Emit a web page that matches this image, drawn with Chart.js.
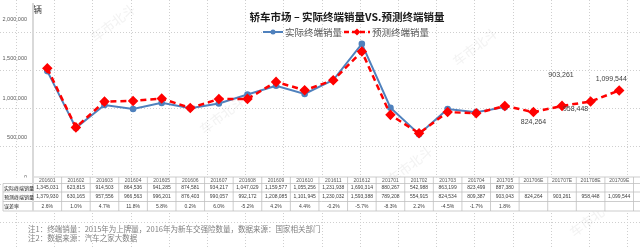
<!DOCTYPE html>
<html>
<head>
<meta charset="utf-8">
<script src="https://cdn.jsdelivr.net/npm/chart.js@4.4.1/dist/chart.umd.min.js"></script>
<style>
  html, body { margin: 0; padding: 0; background: #fff; }
  #contenedor { width: 640px; height: 247px; position: relative; }
</style>
</head>
<body>
<div id="contenedor"><canvas id="grafico"></canvas></div>
<script>
// Datos
const meses = ['201601','201602','201603','201604','201605','201606','201607','201608','201609','201610','201611','201612',
               '201701','201702','201703','201704','201705','201706E','201707E','201708E','201709E'];
const ventasReales = [1345031, 623815, 914503, 864536, 941285, 874581, 934217, 1047029, 1159577, 1055256, 1231938, 1690314,
                      880267, 542988, 863199, 823499, 887380];
const ventasPronostico = [1379930, 630165, 957556, 966563, 996201, 876403, 990057, 992172, 1208085, 1101945, 1230032, 1593388,
                          789208, 554915, 824534, 809387, 903043, 824264, 903261, 958448, 1099544];
const tasaError = ['2.6%','1.0%','4.7%','11.8%','5.8%','0.2%','6.0%','-5.2%','4.2%','4.4%','-0.2%','-5.7%',
                   '-8.3%','2.2%','-4.5%','-1.7%','1.8%'];
const ticksY = [0, 500000, 1000000, 1500000, 2000000];
const nombresSeries = ['实际终端销量', '预测终端销量'];
const titulo = '轿车市场 – 实际终端销量VS.预测终端销量';
const notas = ['注1：终端销量：2015年为上牌量，2016年为新车交强险数量，数据来源：国家相关部门', '注2：数据来源：汽车之家大数据'];

const AZUL = '#4f81bd';
const ROJO = '#ff0000';
const FUENTE = '"Liberation Sans", Arial, sans-serif';
const FUENTE_CJK = '"Noto Sans CJK SC", "Noto Sans", sans-serif';
const fmt = v => v.toLocaleString('en-US');

// fondo tipo hoja de cálculo + marcas de agua
const pluginFondo = {
    id: 'fondo',
    beforeDraw(chart) {
        const ctx = chart.ctx;
        ctx.save();
        ctx.fillStyle = '#fff';
        ctx.fillRect(0, 0, chart.width, chart.height);
        ctx.strokeStyle = '#cfcfcf';
        ctx.lineWidth = 1;
        ctx.setLineDash([1, 2]);
        for (let x = 16; x < chart.width; x += 38.2) {
            ctx.beginPath(); ctx.moveTo(Math.round(x) + 0.5, 0); ctx.lineTo(Math.round(x) + 0.5, chart.height); ctx.stroke();
        }
        for (let y = 32; y < chart.height; y += 38) {
            ctx.beginPath(); ctx.moveTo(0, y + 0.5); ctx.lineTo(chart.width, y + 0.5); ctx.stroke();
        }
        ctx.setLineDash([]);
        // marcas de agua
        ctx.fillStyle = 'rgba(205,205,205,0.25)';
        ctx.font = '13px ' + FUENTE_CJK;
        ctx.textAlign = 'center';
        ctx.textBaseline = 'middle';
        [[113, 23], [475, 47], [222, 115], [410, 165], [592, 218]].forEach(([x, y]) => {
            ctx.save(); ctx.translate(x, y); ctx.rotate(-0.65); ctx.fillText('车市北斗', 0, 0); ctx.restore();
        });
        ctx.restore();
    }
};

// título, leyenda, tabla, etiquetas y notas
const pluginExtras = {
    id: 'extras',
    afterDraw(chart) {
        const ctx = chart.ctx;
        const ex = chart.scales.x;
        const banda = ex.getPixelForValue(1) - ex.getPixelForValue(0);
        const izq = chart.chartArea.left;
        const der = chart.width;
        ctx.save();

        // título
        ctx.fillStyle = '#1a1a1a';
        ctx.font = 'bold 10.5px ' + FUENTE_CJK;
        ctx.textAlign = 'center';
        ctx.textBaseline = 'middle';
        ctx.fillText(titulo, 347, 17);

        // unidad
        ctx.font = '9px ' + FUENTE_CJK;
        ctx.textAlign = 'left';
        ctx.fillStyle = '#404040';
        ctx.fillText('辆', 33, 10);

        // leyenda
        ctx.font = '9.5px ' + FUENTE_CJK;
        ctx.strokeStyle = AZUL; ctx.lineWidth = 2;
        ctx.beginPath(); ctx.moveTo(263, 32); ctx.lineTo(283, 32); ctx.stroke();
        ctx.fillStyle = AZUL;
        ctx.beginPath(); ctx.arc(273, 32, 2.5, 0, Math.PI * 2); ctx.fill();
        ctx.fillStyle = '#595959';
        ctx.fillText(nombresSeries[0], 285, 32.5);
        ctx.strokeStyle = ROJO; ctx.lineWidth = 2.5;
        ctx.setLineDash([5, 3]);
        ctx.beginPath(); ctx.moveTo(344, 32); ctx.lineTo(370, 32); ctx.stroke();
        ctx.setLineDash([]);
        ctx.fillStyle = ROJO;
        ctx.beginPath(); ctx.moveTo(357, 28.5); ctx.lineTo(360.5, 32); ctx.lineTo(357, 35.5); ctx.lineTo(353.5, 32); ctx.closePath(); ctx.fill();
        ctx.fillStyle = '#595959';
        ctx.fillText(nombresSeries[1], 372, 32.5);

        // etiquetas de los meses estimados
        const desplaz = { 17: [0, 10], 18: [-1, -31], 19: [-15, 8], 20: [-8, -11] };
        const meta = chart.getDatasetMeta(1);
        ctx.font = '7px ' + FUENTE;
        ctx.fillStyle = '#404040';
        ctx.textAlign = 'center';
        Object.keys(desplaz).forEach(k => {
            const p = meta.data[k];
            const [dx, dy] = desplaz[k];
            ctx.fillText(fmt(ventasPronostico[k]), p.x + dx, p.y + dy);
        });

        // tabla de datos
        const filas = [177, 183.5, 192, 201.5, 211];
        ctx.fillStyle = '#fff';
        ctx.fillRect(3, filas[0] + 0.5, der - 3, filas[4] - filas[0]);
        ctx.strokeStyle = '#c0c0c0';
        ctx.lineWidth = 0.8;
        ctx.beginPath();
        ctx.moveTo(izq, filas[0]); ctx.lineTo(der, filas[0]);
        for (let r = 1; r < filas.length; r++) { ctx.moveTo(3, filas[r]); ctx.lineTo(der, filas[r]); }
        ctx.moveTo(3, filas[1]); ctx.lineTo(3, filas[4]);
        for (let i = 0; i <= meses.length; i++) {
            const x = izq + i * banda;
            ctx.moveTo(x, filas[0]); ctx.lineTo(x, filas[4]);
        }
        ctx.stroke();
        // eje vertical prolongado
        ctx.strokeStyle = '#d9d9d9'; ctx.lineWidth = 2;
        ctx.beginPath(); ctx.moveTo(izq, 3); ctx.lineTo(izq, filas[4]); ctx.stroke();

        const centro = r => (filas[r] + filas[r + 1]) / 2 + 0.3;
        ctx.font = '5px ' + FUENTE_CJK;
        ctx.fillStyle = '#1a1a1a';
        ctx.textAlign = 'left';
        ['实际终端销量', '预测终端销量', '误差率'].forEach((t, r) => ctx.fillText(t, 4, centro(r + 1)));
        ctx.textAlign = 'center';
        ctx.font = '5px ' + FUENTE;
        meses.forEach((m, i) => {
            const x = ex.getPixelForValue(i);
            ctx.fillStyle = '#595959';
            ctx.fillText(m, x, centro(0));
            ctx.fillStyle = '#404040';
            if (ventasReales[i] != null) ctx.fillText(fmt(ventasReales[i]), x, centro(1));
            ctx.fillText(fmt(ventasPronostico[i]), x, centro(2));
            if (tasaError[i] != null) ctx.fillText(tasaError[i], x, centro(3));
        });

        // notas al pie
        ctx.font = '7.5px ' + FUENTE_CJK;
        ctx.fillStyle = '#7f7f7f';
        ctx.textAlign = 'left';
        ctx.fillText(notas[0], 28, 229);
        ctx.fillText(notas[1], 28, 238.5);
        ctx.restore();
    }
};

new Chart(document.getElementById('grafico'), {
    type: 'line',
    data: {
        labels: meses,
        datasets: [
            {
                label: nombresSeries[0],
                data: ventasReales,
                borderColor: AZUL,
                backgroundColor: AZUL,
                borderWidth: 2,
                pointRadius: 2.3,
                pointStyle: 'circle',
                tension: 0,
                order: 2
            },
            {
                label: nombresSeries[1],
                data: ventasPronostico,
                borderColor: ROJO,
                backgroundColor: ROJO,
                borderWidth: 2.5,
                borderDash: [6, 4],
                pointRadius: 3.5,
                pointStyle: 'rectRot',
                tension: 0,
                order: 1
            }
        ]
    },
    options: {
        responsive: true,
        maintainAspectRatio: false,
        animation: false,
        devicePixelRatio: 1,
        layout: { padding: { top: 2, bottom: 70, right: 0, left: 0 } },
        plugins: {
            legend: { display: false },
            title: { display: false },
            tooltip: { enabled: false }
        },
        scales: {
            x: { display: false, offset: true },
            y: {
                min: 0,
                max: 2130000,
                afterBuildTicks: s => { s.ticks = ticksY.map(v => ({ value: v })); },
                afterFit: s => { s.width = 33; },
                grid: { display: false, drawTicks: false },
                border: { display: true, color: '#d9d9d9', width: 2 },
                ticks: {
                    padding: 6,
                    color: '#595959',
                    font: { family: 'Liberation Sans', size: 5.5 },
                    callback: v => fmt(v)
                }
            }
        }
    },
    plugins: [pluginFondo, pluginExtras]
});
</script>
</body>
</html>
